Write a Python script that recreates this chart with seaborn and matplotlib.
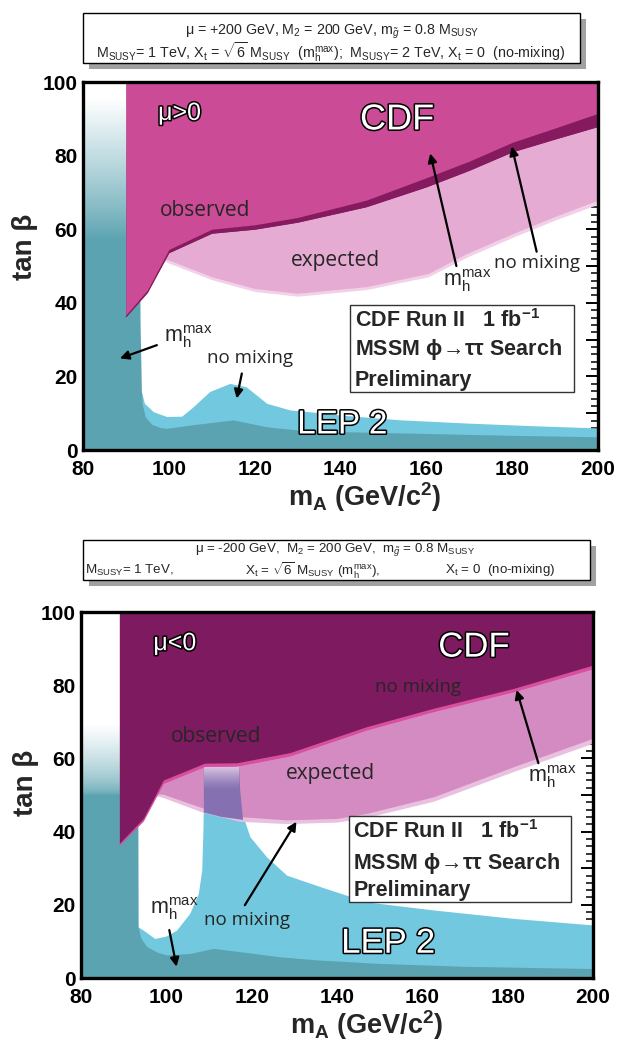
import numpy as np
import matplotlib
matplotlib.use("Agg")
import matplotlib.pyplot as plt
import matplotlib.patheffects as pe
from matplotlib.patches import Rectangle
from matplotlib.colors import to_rgba
import seaborn as sns

# ---------------- data: mu > 0 (top panel) ----------------
top_obs_x = [90, 95, 100, 110, 120, 130, 146, 160, 170, 180, 190, 200]
top_obs_mhmax = [36.7, 43.5, 54.5, 60.0, 61.2, 63.2, 67.9, 74.0, 78.5, 83.6, 87.5, 91.5]
top_obs_nomix = [36.2, 42.8, 53.6, 58.9, 60.0, 61.9, 66.1, 71.5, 76.0, 81.0, 84.5, 87.9]
top_exp_x = [98, 100, 110, 120, 130, 146, 160.5, 169.4, 180.3, 190, 200]
top_exp_low = [52.5, 51.6, 47.1, 43.9, 42.6, 44.4, 48.0, 53.4, 58.9, 63.5, 67.9]
top_exp_edge = [52.0, 50.8, 46.3, 43.1, 41.8, 43.6, 47.1, 52.4, 57.9, 62.5, 66.8]
top_lep_mhmax_x = [80, 92.8, 93.3, 93.6, 93.8, 94.5, 96, 98, 99.5, 105.7, 115, 122.8, 130.6, 140, 160, 180, 200]
top_lep_mhmax_y = [100, 100, 34, 16, 12.5, 9.0, 7.0, 6.1, 5.9, 6.9, 8.2, 6.3, 5.4, 5.0, 4.5, 4.0, 3.6]
top_lep_nomix_x = [93.6, 94.3, 96.4, 99.5, 103, 105.7, 109.5, 114.2, 118, 122.8, 128.2, 134.5, 140, 154, 170, 185, 200]
top_lep_nomix_y = [16, 12.7, 10.4, 9.1, 9.2, 11.8, 15.9, 18.1, 17.2, 12.7, 10.9, 10.2, 9.5, 8.2, 7.3, 6.6, 6.0]

# ---------------- data: mu < 0 (bottom panel) ----------------
bot_obs_x = [89, 94.6, 99.3, 109, 116.5, 129, 147, 162.6, 181.3, 200]
bot_obs_nomix = [36.8, 43.6, 54.1, 58.7, 58.8, 61.6, 68.7, 73.7, 79.1, 85.5]
bot_obs_mhmax = [36.3, 42.9, 53.2, 57.8, 57.9, 60.7, 67.8, 72.8, 78.2, 84.5]
bot_exp_x = [97.5, 99.3, 108.7, 117.3, 128.2, 140, 147, 162.6, 181.3, 200]
bot_exp_low = [50.3, 50.2, 46.4, 44.1, 43.2, 43.6, 45.0, 49.5, 57.7, 65.5]
bot_exp_edge = [49.8, 49.3, 45.2, 42.8, 42.2, 42.6, 43.9, 48.3, 56.4, 64.2]
bot_lep_mhmax_x = [80, 93.2, 93.4, 94.0, 95.4, 98, 100.1, 105.5, 111, 117.3, 126.6, 136, 150, 170, 200]
bot_lep_mhmax_y = [100, 100, 14, 11, 8.6, 7.0, 6.3, 6.7, 8.1, 7.2, 5.8, 4.9, 4.0, 3.2, 2.6]
bot_lep_nomix_x = [93.4, 94.6, 97.3, 100.0, 102.4, 105.5, 107.5, 108.3, 108.6, 108.8, 117.0, 117.3,
                   118.0, 119.6, 123.5, 128.2, 136.0, 147.0, 162.6, 181.3, 200]
bot_lep_nomix_y = [14, 13.1, 10.8, 11.5, 13.1, 17.7, 23.1, 29.5, 41.3, 58.0, 58.0, 51.4,
                   44.1, 38.6, 33.1, 28.1, 25.0, 20.8, 18.6, 16.3, 14.5]
bot_overlap_x = [108.8, 108.8, 117.0, 117.3, 118.0, 113.0]
bot_overlap_y = [45.2, 58.6, 58.6, 51.4, 43.2, 44.0]

x_ticks = [80, 100, 120, 140, 160, 180, 200]
y_ticks = [0, 20, 40, 60, 80, 100]

# ---------------- style ----------------
sns.set_theme(style="ticks")
plt.rcParams['font.family'] = ['Liberation Sans', 'DejaVu Sans']
plt.rcParams['mathtext.fontset'] = 'custom'
plt.rcParams['mathtext.rm'] = 'Liberation Sans'
plt.rcParams['mathtext.it'] = 'Liberation Sans:italic'
plt.rcParams['mathtext.bf'] = 'Liberation Sans:bold'

TEAL = '#5ba3b1'
CYAN = '#72c9df'

fig = plt.figure(figsize=(6.21, 10.41), dpi=100)
ax1 = fig.add_axes([0.1337, 0.5677, 0.8293, 0.3535])
ax2 = fig.add_axes([0.1304, 0.0605, 0.8245, 0.3516])

outline = [pe.Stroke(linewidth=2.2, foreground='black'), pe.Normal()]
ann_font = ['Open Sans', 'DejaVu Sans']


def white_fade(ax, x0, x1, y0, y_full, power):
    ys = np.linspace(y0, 100, 500)
    a = np.clip((ys - y0) / (y_full - y0), 0, 1) ** power
    img = np.ones((500, 2, 4))
    img[:, :, 3] = a[:, None]
    ax.imshow(img, extent=[x0, x1, y0, 100], origin='lower', aspect='auto',
              interpolation='nearest', zorder=3)


def style_axes(ax):
    ax.set_xlim(80, 200)
    ax.set_ylim(0, 100)
    ax.set_xticks(x_ticks)
    ax.set_xticks(np.arange(80, 201, 5), minor=True)
    ax.set_yticks(np.arange(0, 101, 10))
    ax.set_yticklabels([str(v) if v in y_ticks else '' for v in range(0, 101, 10)])
    ax.set_yticks(np.arange(0, 101, 2), minor=True)
    ax.tick_params(which='both', direction='in', top=True, right=True, colors='black')
    ax.tick_params(which='major', length=9, width=1.4, labelsize=15)
    ax.tick_params(axis='x', which='major', pad=7)
    ax.tick_params(axis='y', which='major', pad=4)
    ax.tick_params(which='minor', length=5, width=1.1)
    for lab in ax.get_xticklabels() + ax.get_yticklabels():
        lab.set_fontweight('bold')
    for s in ax.spines.values():
        s.set_linewidth(2.4)
        s.set_color('black')
        s.set_zorder(20)
    ax.set_xlabel('')
    ax.set_ylabel('')


def arrow(ax, tail, head):
    ax.annotate('', xy=head, xytext=tail, zorder=15,
                arrowprops=dict(arrowstyle='-|>', color='black', lw=1.6, mutation_scale=13,
                                shrinkA=0, shrinkB=0))


def mhmax(ax, x, y):
    ax.text(x, y, r'm$_\mathrm{h}^\mathrm{max}$', fontsize=15.5, ha='center', va='center', zorder=15)


def info_box(ax, x0, x1, y0, y1, tx, ty):
    ax.add_patch(Rectangle((x0, y0), x1 - x0, y1 - y0, facecolor='white', edgecolor='#333333',
                           lw=1.0, zorder=14))
    lines = [r'CDF Run II   1 fb$^{\mathbf{-1}}$', r'MSSM ϕ$\!\rightarrow\!$ττ Search', 'Preliminary']
    for t, yy in zip(lines, ty):
        ax.text(tx, yy, t, fontsize=15.5, fontweight='bold', ha='left', va='center', zorder=15)


# ================= top panel =================
ax = ax1
ax.fill_between(top_lep_nomix_x, 0, top_lep_nomix_y, color=CYAN, lw=0, zorder=1)
ax.fill_between(top_lep_mhmax_x, 0, top_lep_mhmax_y, color=TEAL, lw=0, zorder=2)
white_fade(ax, 80, 93.6, 57, 95, 0.9)
ax.fill_between(top_exp_x, top_exp_edge, 100, color='#f2d0e7', lw=0, zorder=4)
ax.fill_between(top_exp_x, top_exp_low, 100, color='#e5abd3', lw=0, zorder=5)
ax.fill_between(top_obs_x, top_obs_nomix, 100, color='#861a5f', lw=0, zorder=8)
ax.fill_between(top_obs_x, top_obs_mhmax, 100, color='#cb4b96', lw=0, zorder=9)
sns.lineplot(x=top_obs_x, y=top_obs_nomix, ax=ax, color='#861a5f', lw=0.6, zorder=8)
style_axes(ax)

ax.text(102.5, 91.6, 'μ>0', fontsize=18, color='white', ha='center', va='center',
        path_effects=outline, zorder=15)
ax.text(153.2, 89.7, 'CDF', fontsize=26, color='white', ha='center', va='center',
        path_effects=outline, zorder=15)
ax.text(108.4, 65.2, 'observed', fontsize=15, family=ann_font, ha='center', va='center', zorder=15)
ax.text(138.7, 51.6, 'expected', fontsize=15, family=ann_font, ha='center', va='center', zorder=15)
mhmax(ax, 169.6, 46)
arrow(ax, (167, 50), (160.9, 80.6))
ax.text(185.8, 50.7, 'no mixing', fontsize=13.5, family=ann_font, ha='center', va='center', zorder=15)
arrow(ax, (185.7, 53.9), (179.9, 82.5))
mhmax(ax, 104.4, 30.8)
arrow(ax, (97.2, 28.5), (88.6, 24.9))
ax.text(118.9, 24.9, 'no mixing', fontsize=13.5, family=ann_font, ha='center', va='center', zorder=15)
arrow(ax, (117, 20.8), (115.8, 14))
ax.text(140.4, 6.8, 'LEP 2', fontsize=24, color='white', ha='center', va='center',
        path_effects=outline, zorder=15)
info_box(ax, 142.2, 194.3, 15.8, 39.4, 143.4, [35.3, 27.2, 19.0])

# ================= bottom panel =================
ax = ax2
ax.fill_between(bot_lep_nomix_x, 0, bot_lep_nomix_y, color=CYAN, lw=0, zorder=1)
ax.fill_between(bot_lep_mhmax_x, 0, bot_lep_mhmax_y, color=TEAL, lw=0, zorder=2)
white_fade(ax, 80, 93.4, 50, 69, 0.6)
ax.fill_between(bot_exp_x, bot_exp_edge, 100, color='#e9c0df', lw=0, zorder=4)
ax.fill_between(bot_exp_x, bot_exp_low, 100, color='#d48bc1', lw=0, zorder=5)
ax.fill(bot_overlap_x, bot_overlap_y, color='#8571b1', lw=0, zorder=6)
c0 = np.array(to_rgba('#8571b1'))
c1 = np.array(to_rgba('#ead2ea'))
t = np.linspace(0, 1, 256)[:, None]
col = c0 * (1 - t ** 1.3) + c1 * t ** 1.3
grad = np.repeat(col[:, None, :], 2, axis=1)
ax.imshow(grad, extent=[108.8, 117.0, 51.5, 58.6], origin='lower', aspect='auto',
          interpolation='nearest', zorder=7)
ax.fill_between(bot_obs_x, bot_obs_mhmax, 100, color='#d94f9f', lw=0, zorder=8)
ax.fill_between(bot_obs_x, bot_obs_nomix, 100, color='#7e1a5f', lw=0, zorder=9)
sns.lineplot(x=bot_obs_x, y=bot_obs_mhmax, ax=ax, color='#d94f9f', lw=0.6, zorder=8)
style_axes(ax)

ax.text(102, 91.5, 'μ<0', fontsize=18, color='white', ha='center', va='center',
        path_effects=outline, zorder=15)
ax.text(172.1, 90.4, 'CDF', fontsize=25, color='white', ha='center', va='center',
        path_effects=outline, zorder=15)
ax.text(158.9, 79.6, 'no mixing', fontsize=13.5, family=ann_font, ha='center', va='center', zorder=15)
ax.text(111.6, 65.9, 'observed', fontsize=15, family=ann_font, ha='center', va='center', zorder=15)
ax.text(138.4, 56.0, 'expected', fontsize=15, family=ann_font, ha='center', va='center', zorder=15)
mhmax(ax, 190.5, 55.1)
arrow(ax, (187.2, 58.7), (182.1, 78.7))
mhmax(ax, 101.8, 18.9)
arrow(ax, (100.7, 13.1), (102.4, 3.1))
ax.text(119, 15.8, 'no mixing', fontsize=13.5, family=ann_font, ha='center', va='center', zorder=15)
arrow(ax, (118.4, 19.9), (130.5, 42.7))
ax.text(152, 9.5, 'LEP 2', fontsize=25, color='white', ha='center', va='center',
        path_effects=outline, zorder=15)
info_box(ax, 142.9, 194.8, 20.8, 44.3, 143.8, [40.0, 31.3, 24.0])

# ================= axis labels =================
for (xl, yl) in [((0.587, 0.5226), (0.040, 0.7627)), ((0.590, 0.0150), (0.042, 0.2478))]:
    fig.text(xl[0], xl[1], r'm$_{\mathbf{A}}$ (GeV/c$^{\mathbf{2}}$)', fontsize=19.5,
             fontweight='bold', ha='center', va='center')
    fig.text(yl[0], yl[1], 'tan β', fontsize=20, fontweight='bold', rotation=90,
             ha='center', va='center')

# ================= header boxes =================
shadow = [pe.SimplePatchShadow(offset=(4, -4), shadow_rgbFace='#555555', alpha=0.55), pe.Normal()]
fig.patches.append(Rectangle((0.1337, 0.9395), 0.8003, 0.0480, transform=fig.transFigure,
                             facecolor='white', edgecolor='black', lw=1.0, path_effects=shadow))
fig.patches.append(Rectangle((0.1337, 0.4428), 0.8164, 0.0384, transform=fig.transFigure,
                             facecolor='white', edgecolor='black', lw=1.0, path_effects=shadow))

hs = 10.3
fig.text(0.5346, 0.9695, r'μ = +200 GeV, M$_2$ = 200 GeV, m$_{\tilde{g}}$ = 0.8 M$_{\mathrm{SUSY}}$',
         fontsize=hs, ha='center', va='center')
fig.text(0.532, 0.9503,
         r'M$_{\mathrm{SUSY}}$= 1 TeV, X$_\mathrm{t}$ = $\sqrt{6}$ M$_{\mathrm{SUSY}}$  (m$_\mathrm{h}^\mathrm{max}$);  '
         r'M$_{\mathrm{SUSY}}$= 2 TeV, X$_\mathrm{t}$ = 0  (no-mixing)',
         fontsize=hs, ha='center', va='center')
hb = 9.6
fig.text(0.539, 0.4712, r'μ = -200 GeV,  M$_2$ = 200 GeV,  m$_{\tilde{g}}$ = 0.8 M$_{\mathrm{SUSY}}$',
         fontsize=hb, ha='center', va='center')
fig.text(0.1370, 0.4520, r'M$_{\mathrm{SUSY}}$= 1 TeV,', fontsize=hb, ha='left', va='center')
fig.text(0.3945, 0.4520, r'X$_\mathrm{t}$ = $\sqrt{6}$ M$_{\mathrm{SUSY}}$ (m$_\mathrm{h}^\mathrm{max}$),',
         fontsize=hb, ha='left', va='center')
fig.text(0.7166, 0.4520, r'X$_\mathrm{t}$ = 0  (no-mixing)', fontsize=hb, ha='left', va='center')

fig.savefig('out.png', dpi=100)
